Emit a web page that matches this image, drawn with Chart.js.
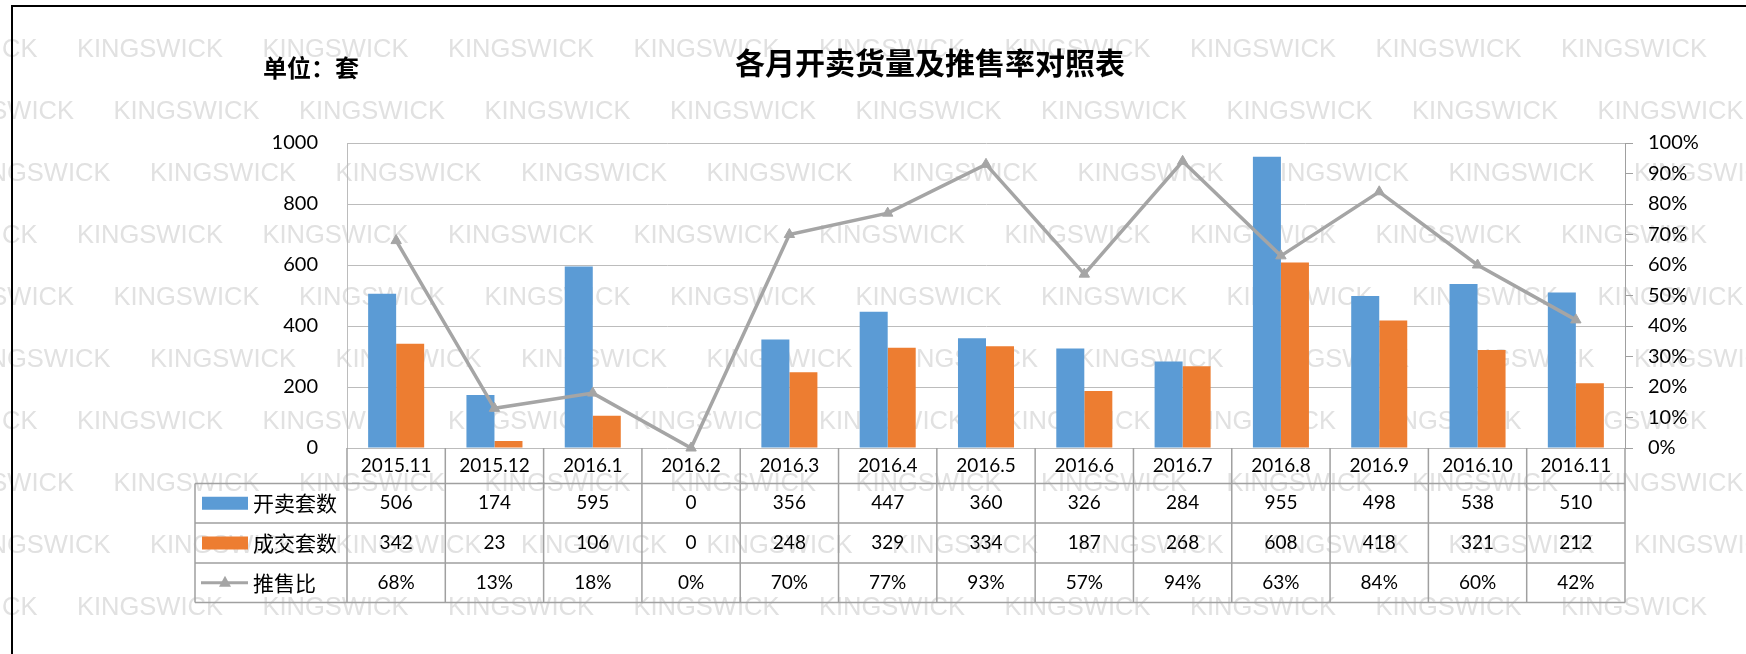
<!DOCTYPE html>
<html>
<head>
<meta charset="utf-8">
<title>各月开卖货量及推售率对照表</title>
<script src="https://cdn.jsdelivr.net/npm/chart.js@4.4.1/dist/chart.umd.min.js"></script>
<style>
  html, body { margin: 0; padding: 0; background: #fff; }
  #wrap { width: 1746px; height: 654px; }
</style>
</head>
<body>
<div id="wrap"><canvas id="chart" width="1746" height="654"></canvas></div>
<script>
const months = ['2015.11', '2015.12', '2016.1', '2016.2', '2016.3', '2016.4', '2016.5',
  '2016.6', '2016.7', '2016.8', '2016.9', '2016.10', '2016.11'];
const openUnits = [506, 174, 595, 0, 356, 447, 360, 326, 284, 955, 498, 538, 510];
const soldUnits = [342, 23, 106, 0, 248, 329, 334, 187, 268, 608, 418, 321, 212];
const saleRate = [68, 13, 18, 0, 70, 77, 93, 57, 94, 63, 84, 60, 42];

const seriesNames = ['开卖套数', '成交套数', '推售比'];
const blue = '#5b9bd5';
const orange = '#ed7d31';
const gray = '#a5a5a5';

const numFont = '19px Lato, "Noto Sans", sans-serif';
const cjkFont = '21px "Noto Sans CJK SC", sans-serif';

// background, watermark, frame and the two headings
const sheetPlugin = {
  id: 'sheet',
  beforeDraw(chart) {
    const ctx = chart.ctx;
    ctx.save();
    ctx.fillStyle = '#fff';
    ctx.fillRect(0, 0, chart.width, chart.height);

    ctx.font = '25.5px "Liberation Sans", Arial, sans-serif';
    ctx.fillStyle = '#e1e1e1';
    ctx.textAlign = 'left';
    ctx.textBaseline = 'alphabetic';
    for (let r = -1; r <= 10; r++) {
      const y = 57 + 62 * r;
      const start = 77 + 36.5 * (((r % 3) + 3) % 3);
      for (let x = start - 185.5; x < chart.width; x += 185.5) {
        ctx.fillText('KINGSWICK', x, y);
      }
    }

    ctx.strokeStyle = '#000';
    ctx.lineWidth = 2;
    ctx.beginPath();
    ctx.moveTo(12, chart.height);
    ctx.lineTo(12, 6);
    ctx.lineTo(chart.width, 6);
    ctx.stroke();

    ctx.fillStyle = '#000';
    ctx.textBaseline = 'middle';
    ctx.font = 'bold 30px "Noto Sans CJK SC", sans-serif';
    ctx.textAlign = 'center';
    ctx.fillText('各月开卖货量及推售率对照表', 930, 63);
    ctx.font = 'bold 24px "Noto Sans CJK SC", sans-serif';
    ctx.textAlign = 'left';
    ctx.fillText('单位：套', 263, 68);
    ctx.restore();
  },
  afterDraw(chart) {
    const ctx = chart.ctx;
    const xs = chart.scales.x;
    const n = months.length;
    const cw = (xs.right - xs.left) / n;
    const tableLeft = 195;
    const rows = [chart.chartArea.bottom, 483.5, 523, 563, 602.5];

    ctx.save();
    ctx.strokeStyle = '#a0a0a0';
    ctx.lineWidth = 1.5;
    ctx.beginPath();
    for (let i = 1; i < rows.length; i++) {
      ctx.moveTo(tableLeft, rows[i]);
      ctx.lineTo(xs.right, rows[i]);
    }
    ctx.moveTo(tableLeft, rows[1]);
    ctx.lineTo(tableLeft, rows[4]);
    for (let i = 0; i <= n; i++) {
      const x = xs.left + cw * i;
      ctx.moveTo(x, rows[0]);
      ctx.lineTo(x, rows[4]);
    }
    ctx.stroke();

    // values
    const lines = [openUnits.map(String), soldUnits.map(String), saleRate.map(v => v + '%')];
    ctx.fillStyle = '#000';
    ctx.font = numFont;
    ctx.textAlign = 'center';
    ctx.textBaseline = 'middle';
    lines.forEach((vals, r) => {
      const y = (rows[r + 1] + rows[r + 2]) / 2;
      vals.forEach((v, i) => {
        ctx.fillText(v, xs.getPixelForValue(i), y);
      });
    });

    // legend cells
    ctx.font = cjkFont;
    ctx.textAlign = 'left';
    const colors = [blue, orange];
    seriesNames.forEach((name, r) => {
      const y = (rows[r + 1] + rows[r + 2]) / 2;
      if (r < 2) {
        ctx.fillStyle = colors[r];
        ctx.fillRect(202, y - 6.5, 46, 13);
      } else {
        ctx.strokeStyle = gray;
        ctx.lineWidth = 3;
        ctx.beginPath();
        ctx.moveTo(201, y);
        ctx.lineTo(248, y);
        ctx.stroke();
        ctx.fillStyle = gray;
        ctx.beginPath();
        ctx.moveTo(225, y - 7);
        ctx.lineTo(231, y + 4);
        ctx.lineTo(219, y + 4);
        ctx.closePath();
        ctx.fill();
      }
      ctx.fillStyle = '#000';
      ctx.fillText(name, 253, y);
    });
    ctx.restore();
  }
};

new Chart(document.getElementById('chart'), {
  data: {
    labels: months,
    datasets: [
      {
        type: 'line',
        label: seriesNames[2],
        data: saleRate,
        yAxisID: 'y1',
        borderColor: gray,
        backgroundColor: gray,
        borderWidth: 3.5,
        pointStyle: 'triangle',
        pointRadius: 6,
        pointBorderWidth: 1,
        tension: 0,
        clip: false,
        order: 0
      },
      {
        type: 'bar',
        label: seriesNames[0],
        data: openUnits,
        yAxisID: 'y',
        backgroundColor: blue,
        categoryPercentage: 0.57,
        barPercentage: 1,
        order: 1
      },
      {
        type: 'bar',
        label: seriesNames[1],
        data: soldUnits,
        yAxisID: 'y',
        backgroundColor: orange,
        categoryPercentage: 0.57,
        barPercentage: 1,
        order: 2
      }
    ]
  },
  options: {
    responsive: false,
    animation: false,
    layout: { padding: { top: 143, left: 0, right: 0, bottom: 0 } },
    plugins: {
      legend: { display: false },
      tooltip: { enabled: false }
    },
    scales: {
      x: {
        offset: true,
        grid: { display: false, drawTicks: false },
        border: { display: false },
        ticks: { color: '#000', font: { family: 'Lato', size: 19 }, padding: 6, maxRotation: 0 },
        afterFit(s) { s.height = 206; }
      },
      y: {
        position: 'left',
        min: 0,
        max: 1000,
        ticks: {
          stepSize: 200,
          color: '#000',
          font: { family: 'Lato', size: 20 },
          padding: 29,
          callback: v => String(v)
        },
        grid: { color: '#bcbcbc', drawTicks: false },
        border: { display: true, color: '#bcbcbc' },
        afterFit(s) { s.width = 347; }
      },
      y1: {
        position: 'right',
        min: 0,
        max: 100,
        ticks: {
          stepSize: 10,
          color: '#000',
          font: { family: 'Lato', size: 20 },
          padding: 15,
          callback: v => v + '%'
        },
        grid: { drawOnChartArea: false, color: '#a0a0a0', tickLength: 8 },
        border: { display: true, color: '#a0a0a0' },
        afterFit(s) { s.width = 121; }
      }
    }
  },
  plugins: [sheetPlugin]
});
</script>
</body>
</html>
